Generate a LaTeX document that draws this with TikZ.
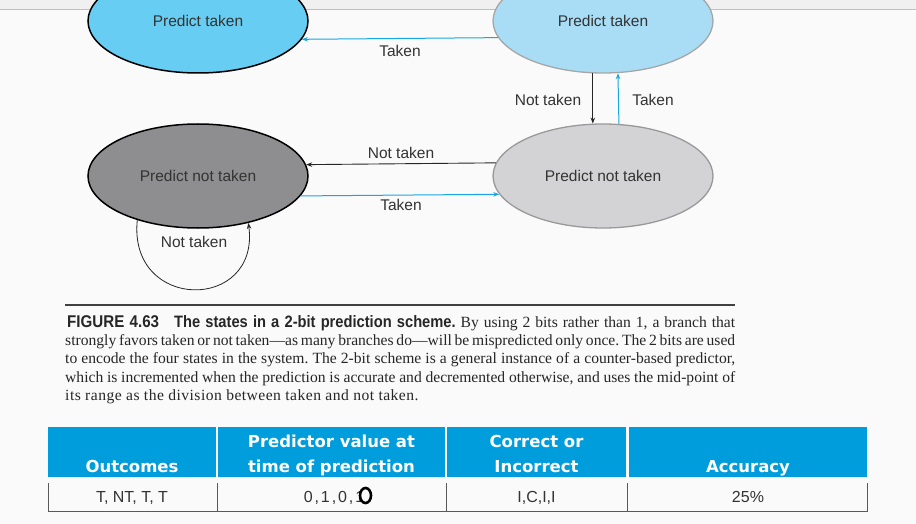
\documentclass[tikz,border=0pt]{standalone}
\usepackage{fontspec}
\setmainfont{Liberation Serif}
\newfontfamily\diag{Liberation Sans}
\newfontfamily\capsans[FakeStretch=0.89]{Liberation Sans}
\newfontfamily\hdr{DejaVu Sans}
\usetikzlibrary{shapes.geometric,arrows.meta}
\definecolor{tlfill}{HTML}{67CDF2}
\definecolor{trfill}{HTML}{A9DDF6}
\definecolor{blfill}{HTML}{8E8E90}
\definecolor{brfill}{HTML}{D3D3D5}
\definecolor{arrblue}{HTML}{18A8E0}
\definecolor{hdrblue}{HTML}{009DDC}
\definecolor{txt}{HTML}{333333}
\frenchspacing
\tikzset{
  state/.style={ellipse, minimum width=220pt, minimum height=104pt, inner sep=0pt,
    font=\diag\fontsize{15.5}{18}\selectfont, text=txt},
  lbl/.style={font=\diag\fontsize{15.5}{18}\selectfont, text=txt, inner sep=0pt},
  blk/.style={draw=black!85, line width=0.9pt, -{Stealth[length=6pt,width=4.5pt]}},
  blu/.style={draw=arrblue, line width=1pt, -{Stealth[length=6pt,width=4.5pt]}},
  capl/.style={anchor=base west, inner sep=0pt, font=\fontsize{15.6}{18}\selectfont, text=black!85},
  hcell/.style={fill=hdrblue},
  htxt/.style={font=\hdr\bfseries\fontsize{16.5}{20}\selectfont, text=white, inner sep=0pt, anchor=base},
  dtxt/.style={font=\diag\fontsize{16}{18}\selectfont, text=txt, inner sep=0pt, anchor=base},
  rowline/.style={draw=black!65, line width=0.9pt}
}
\begin{document}
\begin{tikzpicture}[x=1pt,y=-1pt]
\useasboundingbox (0,0) rectangle (916,524);
\fill[white!98!black] (0,0) rectangle (916,524);
% browser strip
\fill[black!6] (0,0) rectangle (916,9);
\draw[black!25, line width=0.6pt] (0,9) -- (916,9);

% states
\node[state, fill=tlfill, draw=black, line width=1.5pt] (tl) at (198,21) {Predict taken};
\node[state, fill=trfill, draw=black!35, line width=1.3pt] (tr) at (603,21) {Predict taken};
\node[state, fill=blfill, draw=black, line width=1.5pt] (bl) at (198,176) {Predict not taken};
\node[state, fill=brfill, draw=black!40, line width=1.3pt] (br) at (603,176) {Predict not taken};

% transitions
\draw[blu] (tr.189.3) -- (tl.350.7);
\node[lbl] (l1) at (400,51) {Taken};
\draw[blk] (tr.259) -- (br.101);
\node[lbl] (l2) at (548,100) {Not taken};
\draw[blu] (br.73.8) -- (tr.286.2);
\node[lbl] (l3) at (653,100) {Taken};
\draw[blk] (br.173.1) -- (bl.6.9);
\node[lbl] (l4) at (401,153) {Not taken};
\draw[blu] (bl.349.5) -- (br.190.5);
\node[lbl] (l5) at (401,205) {Taken};
\draw[draw=black!85, line width=0.8pt, -{Stealth[length=6pt,width=4.5pt]}]
  (bl.216.4) .. controls (128,312) and (260,312) .. (bl.317.4);
\node[lbl] (l6) at (194,242) {Not taken};

% caption
\draw[black!75, line width=1.4pt] (65,305) -- (735,305);
\node[capl] (c1) at (65,327) {\hbox to 670pt{\hspace{2pt}{\capsans\bfseries\fontsize{17}{18}\selectfont FIGURE 4.63\hspace{15pt}\fontsize{16.5}{18}\selectfont The states in a 2-bit prediction scheme.} By using 2 bits rather than 1, a branch that}};
\node[capl] (c2) at (65,345.4) {\hbox to 670pt{strongly favors taken or not taken---as many branches do---will be mispredicted only once. The 2 bits are used}};
\node[capl] (c3) at (65,363.8) {\hbox to 670pt{to encode the four states in the system. The 2-bit scheme is a general instance of a counter-based predictor,}};
\node[capl] (c4) at (65,382.2) {\hbox to 670pt{which is incremented when the prediction is accurate and decremented otherwise, and uses the mid-point of}};
\node[capl] (c5) at (65,400.6) {\addfontfeature{LetterSpace=3}its range as the division between taken and not taken.};

% table header
\fill[hcell] (48,427) rectangle (216,477);
\fill[hcell] (218,427) rectangle (445,477);
\fill[hcell] (447,427) rectangle (626,477);
\fill[hcell] (629,427) rectangle (867,477);
\node[htxt] (h1) at (132,472) {Outcomes};
\node[htxt] (h2a) at (331.5,447) {Predictor value at};
\node[htxt] (h2b) at (331.5,472) {time of prediction};
\node[htxt] (h3a) at (536.5,447) {Correct or};
\node[htxt] (h3b) at (536.5,472) {Incorrect};
\node[htxt] (h4) at (748,472) {Accuracy};

% data row
\draw[rowline] (48.5,483) -- (48.5,511) -- (867,511) -- (867,483);
\draw[rowline] (217,483) -- (217,511);
\draw[rowline] (446,483) -- (446,511);
\draw[rowline] (627,483) -- (627,511);
\node[dtxt] (d1) at (132,502) {T, NT, T, T};
\node[dtxt] (d2) at (334,502) {\addfontfeature{LetterSpace=12}0,1,0,1};
\node[dtxt] (d3) at (536.5,502) {I,C,I,I};
\node[dtxt] (d4) at (748,502) {25\%};
\draw[black, line width=2.6pt] (365.5,495.5) ellipse [x radius=5.5pt, y radius=7.5pt];
\end{tikzpicture}
\end{document}
